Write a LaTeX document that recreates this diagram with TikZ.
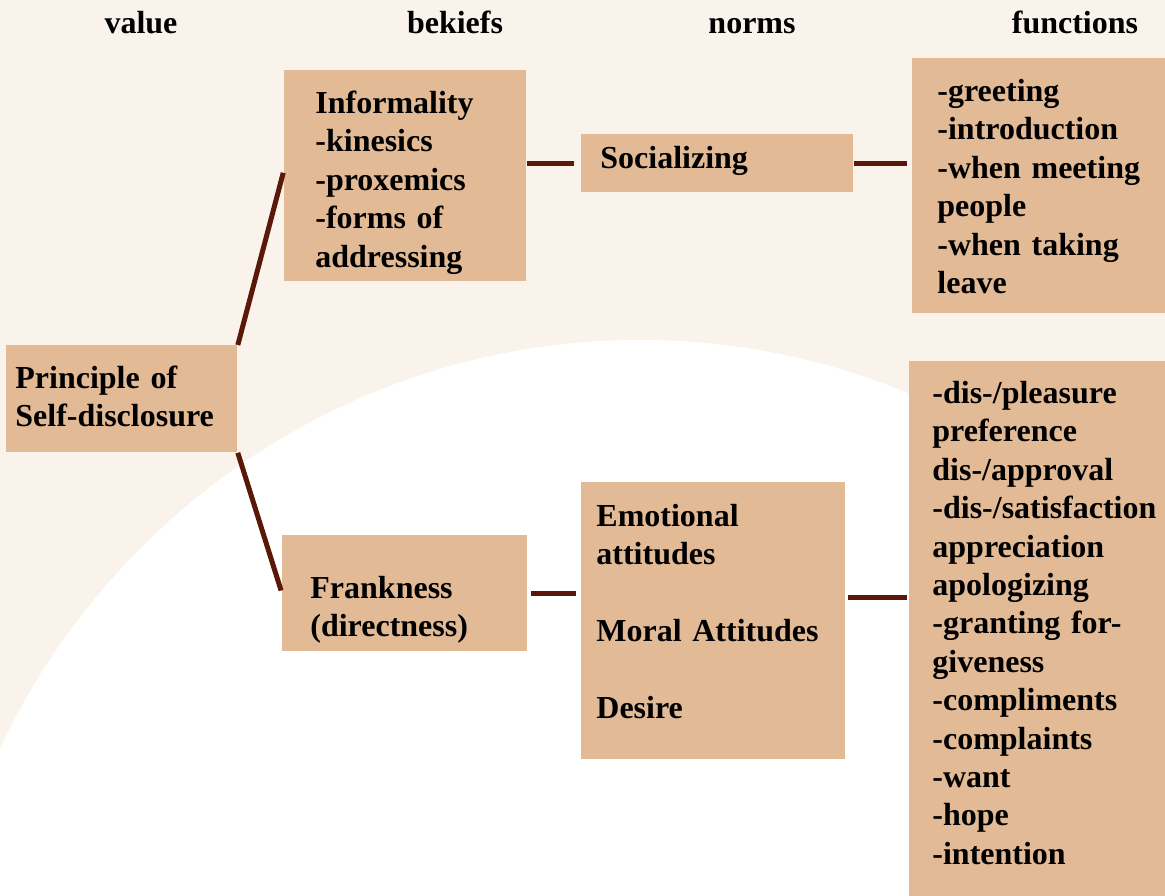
\documentclass[tikz,border=0pt]{standalone}
\usepackage{fontspec}
\setmainfont{Liberation Serif}
\definecolor{bgcream}{HTML}{FAF3EC}
\definecolor{boxtan}{HTML}{E2BA96}
\definecolor{linkbrown}{HTML}{5A1808}
\tikzset{
  box/.style={fill=boxtan, anchor=north west, align=left, inner ysep=0pt,
    font=\fontsize{16pt}{19.2pt}\selectfont\bfseries},
  head/.style={anchor=base, font=\fontsize{16pt}{19.2pt}\selectfont\bfseries},
  link/.style={linkbrown, line width=2.5pt}
}
\begin{document}
\begin{tikzpicture}[x=0.5pt, y=-0.5pt]
  \useasboundingbox (0,0) rectangle (1165,895);
  \clip (0,0) rectangle (1165,895);
  % background
  \fill[bgcream] (0,0) rectangle (1165,895);
  \fill[white] (640,1060) ellipse [x radius=355pt, y radius=360pt];
  % column heads
  \node[head] (hvalue) at (141,33) {value};
  \node[head] (hbel) at (455,33) {bekiefs};
  \node[head] (hnorm) at (752,33) {norms};
  \node[head] (hfunc) at (1075,33) {functions};
  % boxes
  \node[box, inner xsep=4.5pt, text width=106.5pt, text height=21.5pt, text depth=32pt]
    (prin) at (6,345) {Principle of\\Self-disclosure};
  \node[box, inner xsep=15.5pt, text width=90pt, text height=21.5pt, text depth=84pt]
    (inf) at (284,70) {Informality\\-kinesics\\-proxemics\\-forms of\\addressing};
  \node[box, inner xsep=9.5pt, text width=117pt, text height=17pt, text depth=12pt]
    (soc) at (581,134) {Socializing};
  \node[box, inner xsep=12.5pt, text width=107.5pt, text height=21.5pt, text depth=106pt]
    (fnsoc) at (912,58) {-greeting\\-introduction\\-when meeting\\people\\-when taking\\leave};
  \node[box, inner xsep=14pt, text width=94.5pt, text height=31.5pt, text depth=26.5pt]
    (frank) at (282,535) {Frankness\\(directness)};
  \node[box, inner xsep=7.5pt, text width=117pt, text height=22pt, text depth=116.5pt]
    (emo) at (581,482) {Emotional\\attitudes\\[19.2pt]Moral Attitudes\\[19.2pt]Desire};
  \node[box, inner xsep=11.5pt, text width=120pt, text height=21pt, text depth=258.5pt]
    (fnemo) at (909,361) {-dis-/pleasure\\preference\\dis-/approval\\-dis-/satisfaction\\appreciation\\apologizing\\-granting for-\\giveness\\-compliments\\-complaints\\-want\\-hope\\-intention};
  % connectors
  \draw[link, shorten >=1.5pt] (prin.north east) -- ([yshift=3pt]inf.west);
  \draw[link, shorten >=1.5pt] (prin.south east) -- (frank.west);
  \draw[link, shorten >=3.5pt] (soc.west -| inf.east) -- (soc.west);
  \draw[link, shorten >=2.5pt] (soc.east) -- (soc.east -| fnsoc.west);
  \draw[link, shorten <=1.5pt, shorten >=2.5pt] (frank.east) -- (frank.east -| emo.west);
  \draw[link, shorten <=1pt, shorten >=1pt] ([yshift=11.75pt]emo.east) -- ([yshift=11.75pt]emo.east -| fnemo.west);
\end{tikzpicture}
\end{document}
